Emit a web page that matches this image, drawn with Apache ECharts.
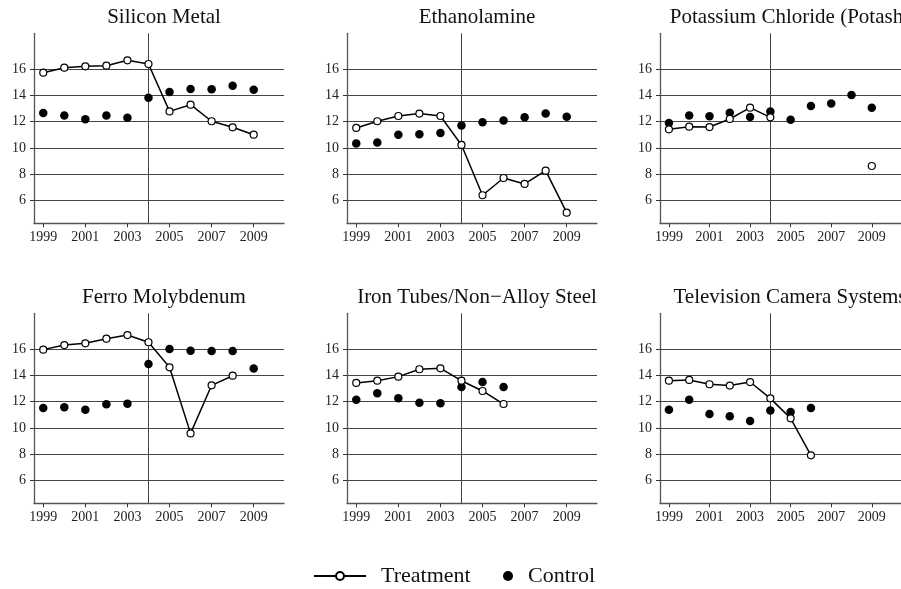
<!DOCTYPE html>
<html>
<head>
<meta charset="utf-8">
<script src="https://cdn.jsdelivr.net/npm/echarts@6/dist/echarts.min.js"></script>
<style>
html,body{margin:0;padding:0;background:#fff;}
#chart{width:901px;height:589px;}
</style>
</head>
<body>
<div id="chart"></div>
<script>
const years = [1999, 2000, 2001, 2002, 2003, 2004, 2005, 2006, 2007, 2008, 2009];
const xTickLabels = [1999, 2001, 2003, 2005, 2007, 2009];
const yTickLabels = [6, 8, 10, 12, 14, 16];
const treatmentYear = 2004;
const legendNames = ['Treatment', 'Control'];

const titles = ['Silicon Metal', 'Ethanolamine', 'Potassium Chloride (Potash)',
  'Ferro Molybdenum', 'Iron Tubes/Non\u2212Alloy Steel', 'Television Camera Systems'];

const siliconTreatment = [15.72, 16.10, 16.20, 16.25, 16.66, 16.38, 12.78, 13.29, 12.03, 11.57, 11.01];
const siliconControl = [12.66, 12.46, 12.18, 12.46, 12.30, 13.82, 14.25, 14.48, 14.46, 14.73, 14.43];

const ethanolTreatment = [11.52, 12.03, 12.43, 12.61, 12.43, 10.23, 6.41, 7.72, 7.27, 8.28, 5.09];
const ethanolControl = [10.35, 10.41, 11.01, 11.04, 11.14, 11.70, 11.95, 12.08, 12.33, 12.61, 12.38];

const potashTreatment = [11.42, 11.62, 11.59, 12.20, 13.06, 12.33, null, null, null, null, 8.63];
const potashControl = [11.90, 12.46, 12.41, 12.68, 12.35, 12.78, 12.15, 13.19, 13.37, 14.03, 13.06];

const ferroTreatment = [15.95, 16.30, 16.43, 16.78, 17.06, 16.51, 14.61, 9.59, 13.24, 13.97, null];
const ferroControl = [11.52, 11.57, 11.39, 11.80, 11.85, 14.86, 16.00, 15.87, 15.85, 15.85, 14.51];

const ironTreatment = [13.42, 13.59, 13.90, 14.46, 14.53, 13.59, 12.81, 11.82, null, null, null];
const ironControl = [12.15, 12.63, 12.25, 11.92, 11.87, 13.11, 13.49, 13.11, null, null, null];

const tvTreatment = [13.59, 13.65, 13.32, 13.22, 13.49, 12.25, 10.73, 7.92, null, null, null];
const tvControl = [11.39, 12.15, 11.06, 10.89, 10.53, 11.32, 11.22, 11.52, null, null, null];

const treatmentSets = [siliconTreatment, ethanolTreatment, potashTreatment, ferroTreatment, ironTreatment, tvTreatment];
const controlSets = [siliconControl, ethanolControl, potashControl, ferroControl, ironControl, tvControl];

const FONT = '"Liberation Serif", "DejaVu Serif", serif';
const lefts = [34, 347, 660];
const tops = [33.3, 313.3];
const W = 250, H = 190;
const XMIN = 1998.56, XMAX = 2010.44;
const YMIN = 4.28, YMAX = 18.71;

const grids = [], xAxes = [], yAxes = [], series = [], titleOpts = [];
for (let i = 0; i < 6; i++) {
  const col = i % 3, row = Math.floor(i / 3);
  grids.push({ left: lefts[col], top: tops[row], width: W, height: H, containLabel: false });
  titleOpts.push({
    text: titles[i], left: lefts[col] + W / 2, top: tops[row] - 31, textAlign: 'center',
    textStyle: { fontFamily: FONT, fontSize: 21, fontWeight: 'normal', color: '#111' }
  });
  xAxes.push({
    type: 'value', gridIndex: i, min: XMIN, max: XMAX,
    axisLine: { show: true, onZero: false, lineStyle: { color: '#555', width: 1.3 } },
    axisTick: { show: true, customValues: xTickLabels, length: 4, lineStyle: { color: '#333' } },
    axisLabel: { customValues: xTickLabels, formatter: v => String(Math.round(v)),
      fontFamily: FONT, fontSize: 14, color: '#222', margin: 7 },
    splitLine: { show: false }
  });
  yAxes.push({
    type: 'value', gridIndex: i, min: YMIN, max: YMAX,
    axisLine: { show: true, onZero: false, lineStyle: { color: '#555', width: 1.3 } },
    axisTick: { show: true, customValues: yTickLabels, length: 4, lineStyle: { color: '#333' } },
    axisLabel: { customValues: yTickLabels, formatter: v => String(Math.round(v)),
      fontFamily: FONT, fontSize: 14, color: '#222', margin: 8 },
    splitLine: { show: false }
  });
  series.push({
    type: 'line', xAxisIndex: i, yAxisIndex: i, data: [], silent: true, z: 1,
    markLine: {
      silent: true, symbol: 'none', z: 1, animation: false,
      label: { show: false },
      lineStyle: { color: '#444', width: 1, type: 'solid' },
      data: yTickLabels.map(v => ({ yAxis: v })).concat([{ xAxis: treatmentYear }])
    }
  });
  series.push({
    name: legendNames[1], type: 'scatter', xAxisIndex: i, yAxisIndex: i, z: 3,
    symbol: 'circle', symbolSize: 8.5,
    itemStyle: { color: '#000', opacity: 1 },
    data: years.map((y, k) => [y, controlSets[i][k]]).filter(p => p[1] !== null)
  });
  series.push({
    name: legendNames[0], type: 'line', xAxisIndex: i, yAxisIndex: i, z: 4,
    symbol: 'circle', symbolSize: 7, showSymbol: true, showAllSymbol: true,
    connectNulls: false,
    lineStyle: { color: '#000', width: 1.5 },
    itemStyle: { color: '#fff', borderColor: '#000', borderWidth: 1.2 },
    data: years.map((y, k) => [y, treatmentSets[i][k] === null ? '-' : treatmentSets[i][k]])
  });
}

const chart = echarts.init(document.getElementById('chart'), null, { renderer: 'canvas' });
chart.setOption({
  animation: false,
  backgroundColor: '#fff',
  title: titleOpts,
  grid: grids,
  xAxis: xAxes,
  yAxis: yAxes,
  legend: [{
    data: [legendNames[0]], left: 313, top: 565, padding: 0,
    itemWidth: 52, itemHeight: 10, itemGap: 0,
    textStyle: { fontFamily: FONT, fontSize: 22, color: '#111', padding: [0, 0, 0, 10] }
  }, {
    data: [legendNames[1]], left: 503, top: 565, padding: 0,
    itemWidth: 10, itemHeight: 10, itemGap: 0,
    textStyle: { fontFamily: FONT, fontSize: 22, color: '#111', padding: [0, 0, 0, 10] }
  }],
  series: series
});
</script>
</body>
</html>
